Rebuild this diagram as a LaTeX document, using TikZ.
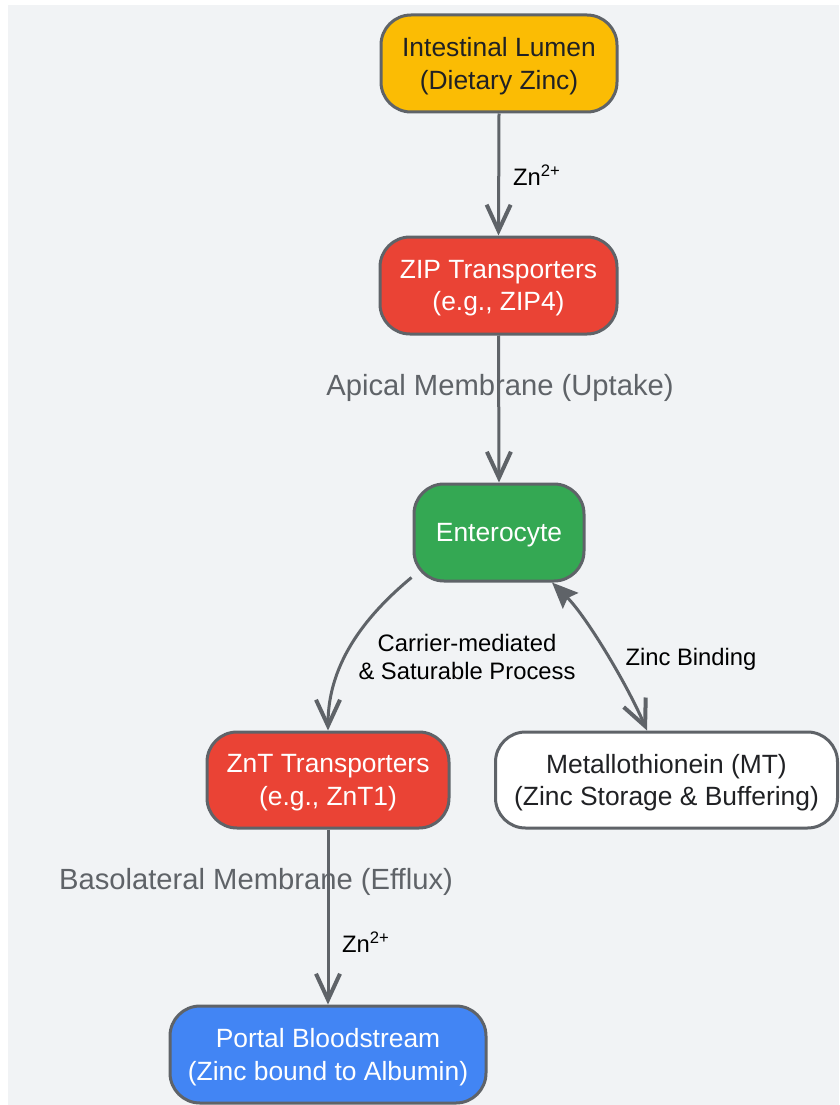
\documentclass[tikz,border=0pt]{standalone}
\usepackage{fontspec}
\setmainfont{Liberation Sans}
\usetikzlibrary{arrows.meta}
\definecolor{bg}{HTML}{F1F3F5}
\definecolor{edgec}{HTML}{5F6368}
\definecolor{yel}{HTML}{FBBC04}
\definecolor{redc}{HTML}{EA4335}
\definecolor{grn}{HTML}{34A853}
\definecolor{blu}{HTML}{4285F4}
\definecolor{dark}{HTML}{202124}
\tikzset{
  chevarrow/.style={-{Straight Barb[length=26pt,width=24pt,line width=4pt]}},
  dblarrow/.style={{Stealth[length=26pt,width=22pt,inset=4pt]}-{Straight Barb[length=26pt,width=24pt,line width=4pt]}},
  box/.style={draw=edgec, line width=3pt, rounded corners=30pt, align=center,
    inner sep=0pt, text depth=-2pt, font=\fontsize{26.4}{32.5}\selectfont},
  elabel/.style={inner sep=0pt, align=center, text=black,
    font=\fontsize{23.8}{27.7}\selectfont},
  clabel/.style={inner sep=0pt, text=edgec, font=\fontsize{29.2}{34}\selectfont},
  conn/.style={draw=edgec, line width=3pt},
}
\begin{document}
\begin{tikzpicture}[x=1pt,y=-1pt]
\useasboundingbox (0,0) rectangle (839,1105);
\fill[bg] (8,5) rectangle (839,1105);

% cluster labels
\node[clabel] (apical) at (500,388) {Apical Membrane (Uptake)};
\node[clabel] (baso) at (256,882) {Basolateral Membrane (Efflux)};

% nodes
\node[box, fill=yel, text=dark, minimum width=236pt, minimum height=97pt] (lum) at (499,63.5) {Intestinal Lumen\\(Dietary Zinc)};
\node[box, fill=redc, text=white, minimum width=237pt, minimum height=97pt] (zip) at (498.5,285.5) {ZIP Transporters\\(e.g., ZIP4)};
\node[box, fill=grn, text=white, minimum width=170pt, minimum height=97pt] (ent) at (499,532.5) {Enterocyte};
\node[box, fill=redc, text=white, minimum width=242pt, minimum height=96pt] (znt) at (328,780) {ZnT Transporters\\(e.g., ZnT1)};
\node[box, fill=white, text=dark, minimum width=342pt, minimum height=96pt] (mt) at (666.5,780) {Metallothionein (MT)\\(Zinc Storage \& Buffering)};
\node[box, fill=blu, text=white, minimum width=316pt, minimum height=97pt] (portal) at (328,1054.5) {Portal Bloodstream\\(Zinc bound to Albumin)};

% edge labels
\node[elabel, anchor=west] (zn1) at (513,175) {Zn\textsuperscript{2+}};
\node[elabel] (carrier) at (467,657) {Carrier-mediated\\\& Saturable Process};
\node[elabel] (bind) at (691,659) {Zinc Binding};
\node[elabel, anchor=west] (zn2) at (342,942) {Zn\textsuperscript{2+}};

% connectors
\draw[conn, chevarrow] (lum.south) -- (zip.north);
\draw[conn, chevarrow] (zip.south) -- (ent.north);
\draw[conn, chevarrow] ([shift={(-1,-5)}]ent.south west) .. controls (370,612) and (328,660) .. (znt.north);
\draw[conn, dblarrow] ([xshift=53pt]ent.south) .. controls (585,615) and (625,680) .. ([xshift=-19.5pt]mt.north);
\draw[conn, chevarrow] (znt.south) -- (portal.north);
\end{tikzpicture}
\end{document}
